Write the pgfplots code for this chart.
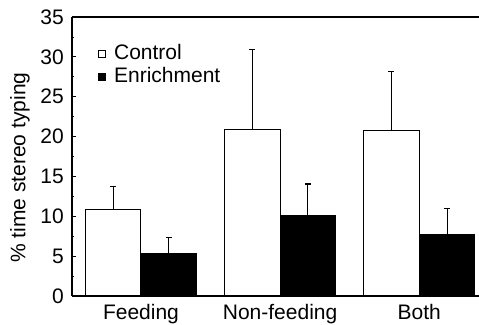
\documentclass[border=0pt]{standalone}
\usepackage{fontspec}
\setmainfont{Liberation Sans}
\usepackage{pgfplots}
\pgfplotsset{compat=1.18}
\begin{document}
\begin{tikzpicture}
\fontsize{21bp}{25bp}\selectfont
\begin{axis}[
  name=ax,
  scale only axis,
  width=407bp, height=279bp,
  xmin=-0.496, xmax=2.43,
  ymin=0, ymax=35,
  ybar=0pt, bar width=0.4,
  axis on top,
  axis x line*=box,
  axis y line*=left,
  axis line style={line width=1.1bp},
  xtick={0,1,2},
  xticklabels={Feeding,Non-feeding,Both},
  x tick style={draw=none},
  ytick={0,5,...,35},
  minor y tick num=1,
  tick align=inside,
  major tick length=4bp,
  minor tick length=2.5bp,
  y tick style={line width=0.8bp, black},
  /pgf/number format/assume math mode=true,
  tick label style={font=\fontsize{21bp}{25bp}\selectfont},
  yticklabel style={xshift=-1bp},
  xticklabel style={yshift=-1bp},
  ylabel={\% time stereo typing},
  every axis y label/.append style={at={(axis description cs:-0.128,0.46)},anchor=center},
  label style={font=\fontsize{21bp}{25bp}\selectfont},
  legend style={draw=none, fill=none, at={(axis description cs:0.064,0.91)}, anchor=north west,
    font=\fontsize{21bp}{25bp}\selectfont, row sep=1bp, inner sep=0pt},
  legend cell align=left,
  error bars/y dir=plus,
  error bars/y explicit,
  error bars/error bar style={line width=1bp, black},
  error bars/error mark options={rotate=90, line width=1.2bp, mark size=3bp, black},
]
\addplot[fill=white, draw=black, line width=1bp,
  legend image code/.code={\draw[black, fill=white, line width=0.8bp] (0bp,-3.5bp) rectangle (7bp,3.5bp); \path (13bp,0bp);}]
  coordinates {(0,10.8) +- (0,2.96) (1,20.9) +- (0,10.0) (2,20.7) +- (0,7.5)};
\addlegendentry{Control}
\addplot[fill=black, draw=black, line width=1bp,
  legend image code/.code={\draw[black, fill=black, line width=0.8bp] (0bp,-3.5bp) rectangle (7bp,3.5bp); \path (13bp,0bp);}]
  coordinates {(0,5.27) +- (0,2.03) (1,10.1) +- (0,3.95) (2,7.7) +- (0,3.25)};
\addlegendentry{Enrichment}
\end{axis}
\pgfresetboundingbox
\useasboundingbox ([shift={(-72bp,-29bp)}]ax.south west) rectangle ([shift={(0bp,17bp)}]ax.north east);
\end{tikzpicture}
\end{document}
